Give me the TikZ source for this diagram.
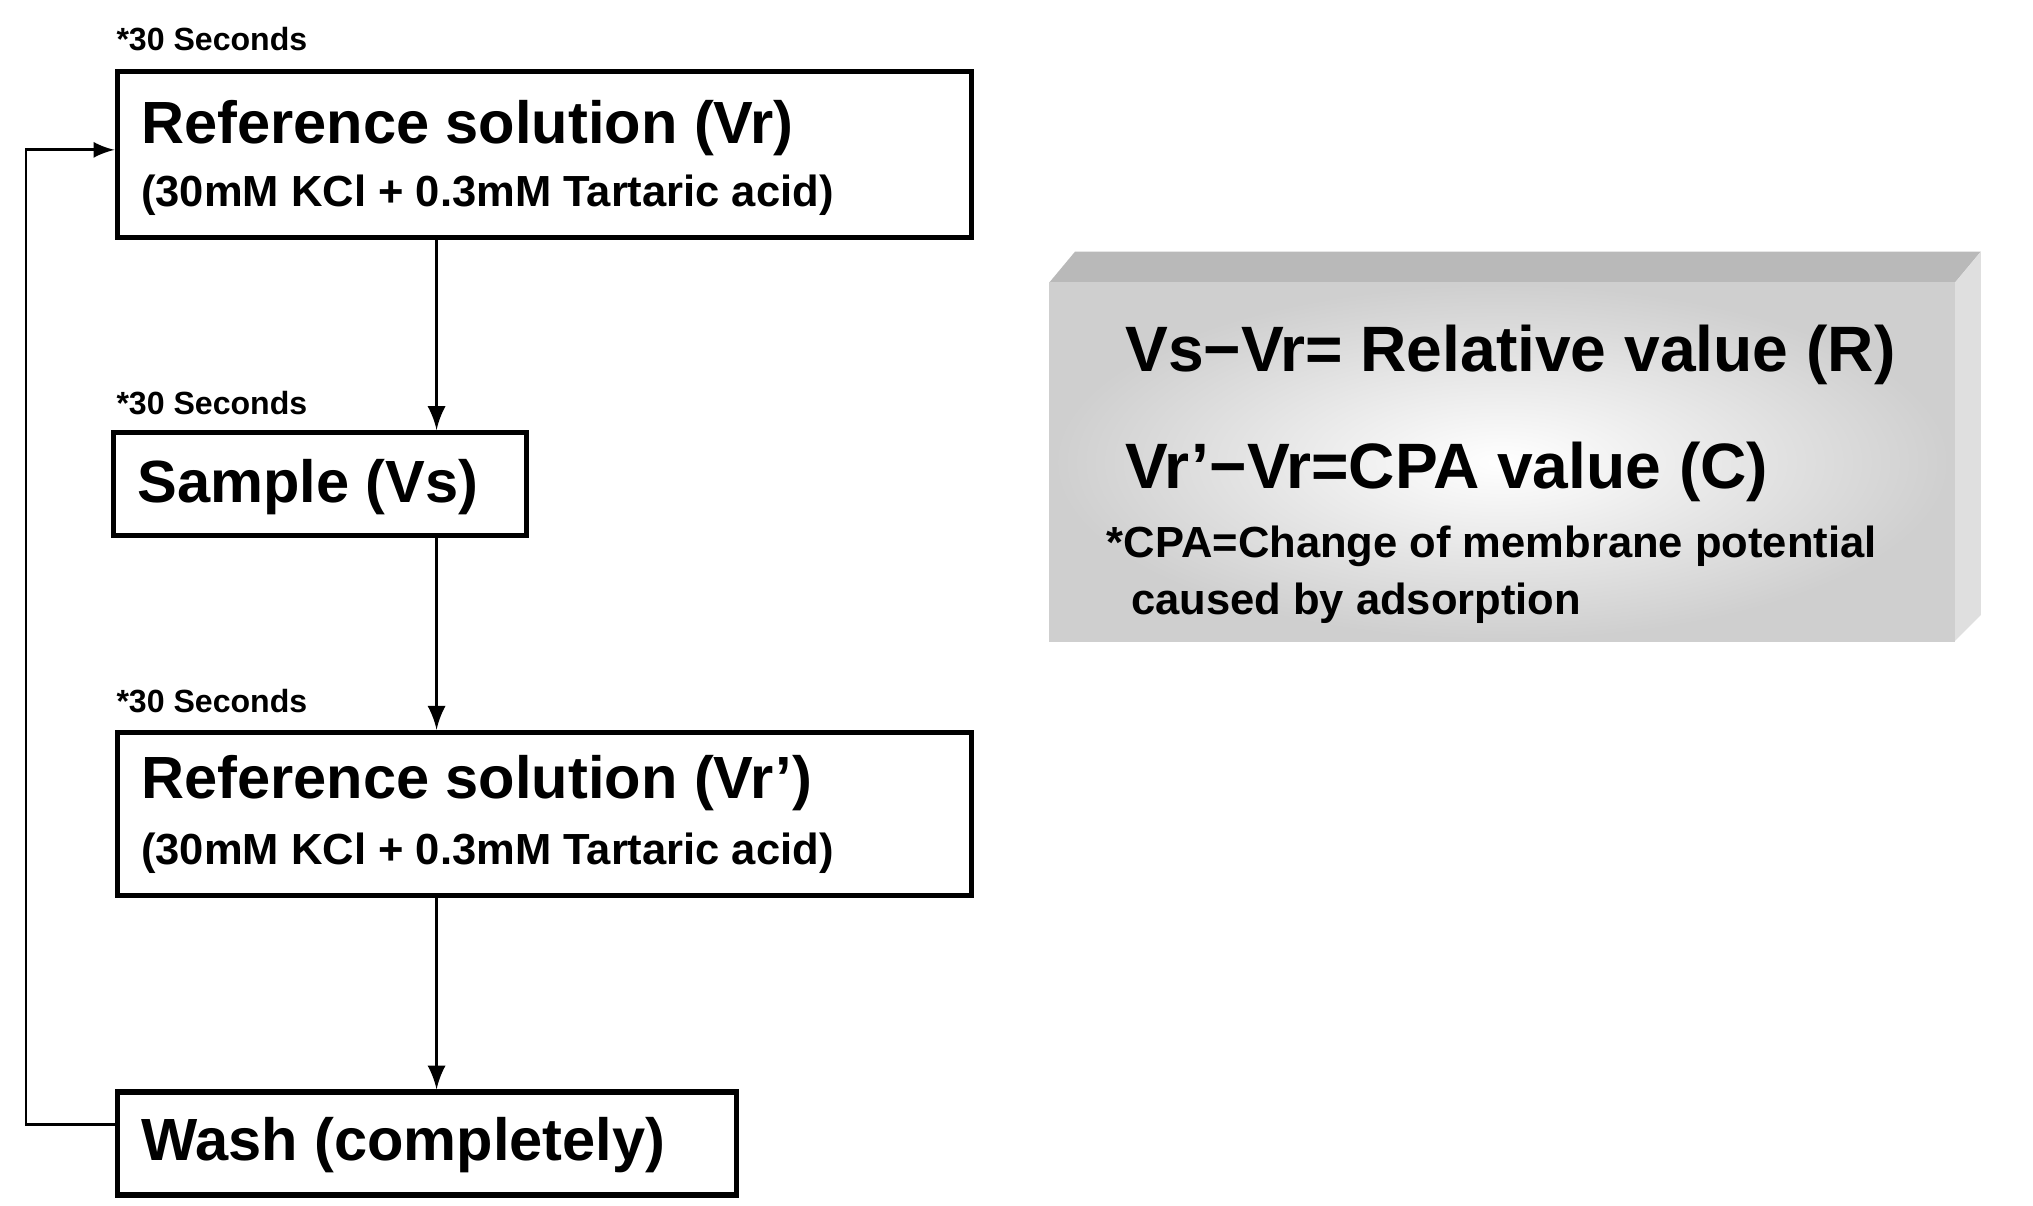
\documentclass[tikz,border=0pt]{standalone}
\usepackage{fontspec}
\setmainfont{Liberation Sans}
\usetikzlibrary{positioning}
\begin{document}
\begin{tikzpicture}
        [x=0.01cm, y=-0.01cm,
        stepbox/.style = {draw, line width = 1.1pt, inner sep = 0, anchor = north west},
        big/.style = {font = {\bfseries\fontsize{13}{15}\selectfont}, inner sep = 0, anchor = west},
        sub/.style = {font = {\bfseries\fontsize{9.5}{11}\selectfont}, inner sep = 0, anchor = west},
        note/.style = {font = {\bfseries\fontsize{7}{8}\selectfont}, inner sep = 0, anchor = west},
        >=latex, thick]
        \useasboundingbox (0, 0) rectangle (1560, 925);
        % steps
        \node (ref) [stepbox, minimum width = 6.55cm, minimum height = 1.27cm] at (88, 53) {};
        \node (sample) [stepbox, minimum width = 3.17cm, minimum height = 0.79cm] at (85, 330) {};
        \node (refb) [stepbox, minimum width = 6.55cm, minimum height = 1.25cm] at (88, 560) {};
        \node (wash) [stepbox, minimum width = 4.75cm, minimum height = 0.79cm] at (88, 836) {};
        \node (reftxt) [big] at (107, 98) {Reference solution (Vr)};
        \node (refsub) [sub] at (107, 150) {(30mM KCl + 0.3mM Tartaric acid)};
        \node (samtxt) [big] at (104, 374) {Sample (Vs)};
        \node (refbtxt) [big] at (107, 601) {Reference solution (Vr’)};
        \node (refbsub) [sub] at (107, 655) {(30mM KCl + 0.3mM Tartaric acid)};
        \node (washtxt) [big] at (107, 879) {Wash (completely)};
        \node (t1) [note] at (88, 30) {*30 Seconds};
        \node (t2) [note] at (88, 309) {*30 Seconds};
        \node (t3) [note] at (88, 538) {*30 Seconds};
        % arrows
        \coordinate (mid) at (335, 0);
        \draw[->] (ref.south -| mid) -- (sample.north -| mid);
        \draw[->] (sample.south -| mid) -- (refb.north -| mid);
        \draw[->] (refb.south -| mid) -- (wash.north -| mid);
        \coordinate (lb) at (20, 863);
        \coordinate (lt) at (20, 115);
        \draw[->, semithick] (wash.west |- lb) -- (lb) -- (lt) -- (ref.west |- lt);
        % result box
        \fill[gray!55] (805, 217) -- (825, 193) -- (1520, 193) -- (1500, 217) -- cycle;
        \fill[gray!25] (1500, 217) -- (1520, 193) -- (1520, 472) -- (1500, 492) -- cycle;
        \shade[inner color = white, outer color = gray!38] (805, 217) rectangle (1500, 492);
        \node (rel) [big, font = {\bfseries\fontsize{14}{16}\selectfont}] at (862, 272) {Vs−Vr= Relative value (R)};
        \node (cpa) [big, font = {\bfseries\fontsize{14}{16}\selectfont}] at (862, 362) {Vr’−Vr=CPA value (C)};
        \node (def) [sub, align = left, anchor = north west, font = {\bfseries\fontsize{9.5}{12.5}\selectfont}] at (848, 402) {*CPA=Change of membrane potential\\\ \ caused by adsorption};
    \end{tikzpicture}
\end{document}
